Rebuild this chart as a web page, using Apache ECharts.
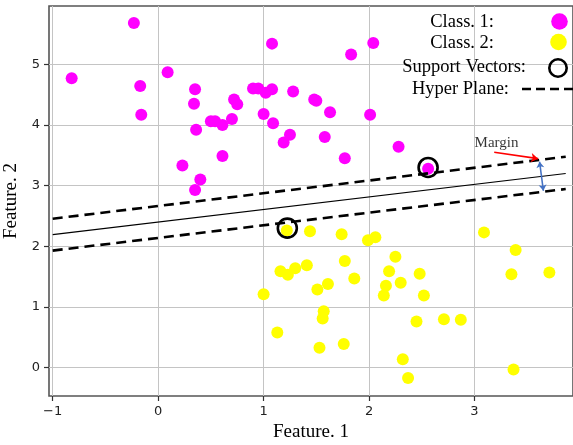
<!DOCTYPE html>
<html>
<head>
<meta charset="utf-8">
<script src="https://cdn.jsdelivr.net/npm/echarts@6/dist/echarts.min.js"></script>
<style>html,body{margin:0;padding:0;background:#fff}#c{width:573px;height:445px}</style>
</head>
<body>
<div id="c"></div>
<script>
// ---- data ----
var class1 = [
  [-0.82,4.77],[-0.23,5.68],[-0.17,4.64],[-0.16,4.17],[0.09,4.87],[0.35,4.59],[0.34,4.35],[0.36,3.92],
  [0.23,3.33],[0.61,3.49],[0.40,3.10],[0.35,2.93],[0.50,4.06],[0.54,4.06],[0.61,4.00],[0.70,4.10],
  [0.72,4.42],[0.75,4.34],[0.90,4.60],[0.95,4.60],[1.02,4.53],[1.08,4.59],[1.00,4.18],[1.09,4.03],
  [1.08,5.34],[1.28,4.55],[1.25,3.84],[1.19,3.71],[2.04,5.35],[1.83,5.16],[1.48,4.42],[1.50,4.40],
  [1.63,4.21],[2.01,4.17],[1.58,3.80],[1.77,3.45],[2.28,3.64],[2.56,3.28]
];
var class2 = [
  [1.22,2.26],[1.16,1.59],[1.23,1.53],[1.30,1.64],[1.00,1.21],[1.13,0.58],[1.44,2.25],[1.74,2.20],
  [1.99,2.10],[2.06,2.15],[3.09,2.23],[3.39,1.94],[3.35,1.54],[3.71,1.57],[1.41,1.69],[1.77,1.76],
  [2.25,1.83],[2.19,1.59],[2.48,1.55],[1.86,1.47],[1.61,1.38],[1.51,1.29],[2.30,1.40],[2.16,1.35],
  [2.14,1.19],[2.52,1.19],[1.57,0.93],[1.56,0.81],[2.45,0.76],[2.71,0.80],[2.87,0.79],[1.53,0.33],
  [1.76,0.39],[2.32,0.14],[2.37,-0.17],[3.37,-0.03]
];
var supportVectors = [[2.56,3.30],[1.225,2.30]];
var hyperPlane = [[-1,2.193],[3.865,3.20]];
var marginUpper = [[-1,2.455],[3.865,3.476]];
var marginLower = [[-1,1.93],[3.865,2.944]];
var marginArrow = [[3.187,3.55],[3.603,3.445]];
var marginSpan = [[3.617,3.394],[3.653,2.916]];
var marginLabel = [[3.209,3.70]];
var xTicks = [-1,0,1,2,3];
var yTicks = [0,1,2,3,4,5];
var xRange = [-1.035,3.934];
var yRange = [-0.466,5.96];
var legendLabels = ['Class. 1:','Class. 2:','Support Vectors:','Hyper Plane:'];
var xTitle = 'Feature. 1';
var yTitle = 'Feature. 2';

// ---- chart ----
var chart = echarts.init(document.getElementById('c'));
var serif = '"Liberation Serif","Times New Roman",serif';
var tickFont = '"DejaVu Sans",sans-serif';
function fmt(v){ return String(v).replace('-', '\u2212'); }
function axisCommon(ticks, range){
  return {
    type:'value', min:range[0], max:range[1],
    axisLine:{show:false, onZero:false},
    axisTick:{show:true, inside:false, length:5, customValues:ticks, lineStyle:{color:'#333', width:1.2}},
    axisLabel:{customValues:ticks, formatter:fmt, fontFamily:tickFont, fontSize:13, color:'#222', margin:9},
    splitLine:{show:true, lineStyle:{color:'#c4c4c4', width:1}}
  };
}
var xAxis = axisCommon(xTicks, xRange);
xAxis.name = xTitle; xAxis.nameLocation='middle'; xAxis.nameGap=27;
xAxis.nameTextStyle = {fontFamily:serif, fontSize:19, color:'#000'};
var yAxis = axisCommon(yTicks, yRange);
yAxis.name = yTitle; yAxis.nameLocation='middle'; yAxis.nameGap=26;
yAxis.nameTextStyle = {fontFamily:serif, fontSize:19, color:'#000'};

var legendY = [22, 43, 67, 89];
var legendRight = [494, 494, 526, 509];
var graphics = [];
legendLabels.forEach(function(t,i){
  graphics.push({type:'text', x:legendRight[i], y:legendY[i], z:100,
    style:{text:t, font:'18.5px '+serif, fill:'#000', textAlign:'right', textVerticalAlign:'middle'}});
});
graphics.push({type:'circle', shape:{cx:559.5, cy:21.5, r:8.3}, style:{fill:'#ff00ff'}, z:100});
graphics.push({type:'circle', shape:{cx:558.5, cy:42, r:8.3}, style:{fill:'#ffff00'}, z:100});
graphics.push({type:'circle', shape:{cx:558, cy:68, r:8.7}, style:{fill:'none', stroke:'#000', lineWidth:2.6}, z:100});
graphics.push({type:'line', shape:{x1:522, y1:89, x2:574, y2:89}, style:{stroke:'#000', lineWidth:2.6, lineDash:[9,5]}, z:100});

chart.setOption({
  animation:false,
  backgroundColor:'#fff',
  grid:{left:49, right:0, top:6, bottom:49, outerBoundsMode:'none', containLabel:false,
        show:true, borderColor:'#555', borderWidth:1.6, backgroundColor:'transparent'},
  xAxis: xAxis,
  yAxis: yAxis,
  graphic: graphics,
  series:[
    {type:'scatter', name:'Class. 1', data:class1, symbolSize:12, itemStyle:{color:'#ff00ff', opacity:1}, z:2},
    {type:'scatter', name:'Class. 2', data:class2, symbolSize:12, itemStyle:{color:'#ffff00', opacity:1}, z:2},
    {type:'line', name:'Hyper Plane', data:hyperPlane, showSymbol:false, symbol:'none', lineStyle:{color:'#000', width:1.2}, z:3},
    {type:'line', name:'Margin upper', data:marginUpper, showSymbol:false, symbol:'none', lineStyle:{color:'#000', width:2.6, type:[10,6]}, z:3},
    {type:'line', name:'Margin lower', data:marginLower, showSymbol:false, symbol:'none', lineStyle:{color:'#000', width:2.6, type:[10,6]}, z:3},
    {type:'scatter', name:'Support Vectors', data:supportVectors, symbolSize:19,
      itemStyle:{color:'rgba(0,0,0,0)', borderColor:'#000', borderWidth:2.6, opacity:1}, z:4},
    {type:'lines', coordinateSystem:'cartesian2d', polyline:false, symbol:['none','arrow'], symbolSize:7,
      lineStyle:{color:'#ff0000', width:1.6, opacity:1}, data:[{coords:marginArrow}], z:5},
    {type:'lines', coordinateSystem:'cartesian2d', polyline:false, symbol:['arrow','arrow'], symbolSize:6,
      lineStyle:{color:'#4472c4', width:1.6, opacity:1}, data:[{coords:marginSpan}], z:5},
    {type:'scatter', name:'Margin label', data:marginLabel, symbolSize:1, itemStyle:{color:'rgba(0,0,0,0)'},
      label:{show:true, position:'inside', formatter:'Margin', fontFamily:serif, fontSize:15, color:'#000'}, z:6}
  ]
});
</script>
</body>
</html>
